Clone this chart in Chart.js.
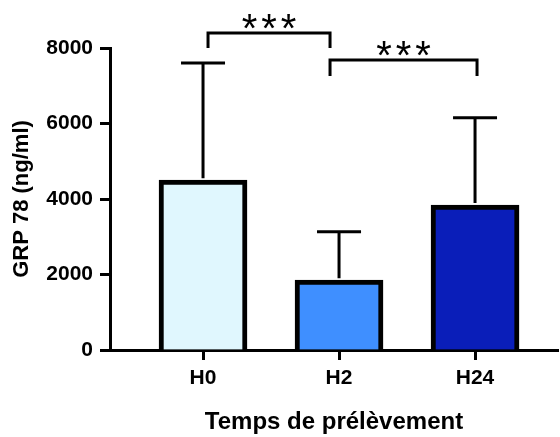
<!DOCTYPE html>
<html lang="fr">
<head>
    <meta charset="UTF-8">
    <title>GRP 78</title>
    <style>
        html, body { margin: 0; padding: 0; background: #fff; }
        #wrap { width: 560px; height: 437px; }
    </style>
    <script src="https://cdn.jsdelivr.net/npm/chart.js"></script>
</head>
<body>
    <div id="wrap"><canvas id="grpChart"></canvas></div>

    <script>
        // Data
        const categories = ['H0', 'H2', 'H24'];
        const means = [4500, 1850, 3840];
        const sdUp = [3100, 1280, 2310];
        const barColors = ['#E0F7FE', '#3F8FFF', '#0A1EB9'];
        const yTicks = [0, 2000, 4000, 6000, 8000];
        const sigPairs = [[0, 1], [1, 2]];
        const sigLabels = ['***', '***'];

        const FONT = '"Liberation Sans", Arial, sans-serif';

        // error bars (upper only, GraphPad style)
        const errorBars = {
            id: 'errorBars',
            afterDatasetsDraw(chart) {
                const { ctx, scales: { x, y } } = chart;
                ctx.save();
                ctx.strokeStyle = '#000';
                ctx.lineWidth = 3;
                means.forEach((m, i) => {
                    const px = x.getPixelForValue(i + 1);
                    const yb = y.getPixelForValue(m);
                    const yt = y.getPixelForValue(m + sdUp[i]);
                    ctx.beginPath();
                    ctx.moveTo(px, yb - 2);
                    ctx.lineTo(px, yt);
                    ctx.moveTo(px - 22, yt);
                    ctx.lineTo(px + 22, yt);
                    ctx.stroke();
                });
                ctx.restore();
            }
        };

        // significance brackets
        const brackets = {
            id: 'brackets',
            afterDraw(chart, args, opts) {
                const { ctx, scales: { x, y } } = chart;
                ctx.save();
                ctx.strokeStyle = '#000';
                ctx.fillStyle = '#000';
                ctx.lineWidth = 3;
                sigPairs.forEach(([a, b], i) => {
                    const x1 = x.getPixelForValue(a + 1) + opts.inset[i][0];
                    const x2 = x.getPixelForValue(b + 1) + opts.inset[i][1];
                    const yt = y.getPixelForValue(opts.top[i]);
                    const yl = y.getPixelForValue(opts.leg[i]);
                    ctx.beginPath();
                    ctx.moveTo(x1, yl);
                    ctx.lineTo(x1, yt);
                    ctx.lineTo(x2, yt);
                    ctx.lineTo(x2, yl);
                    ctx.stroke();
                    ctx.font = '40px ' + FONT;
                    ctx.letterSpacing = '4px';
                    ctx.textAlign = 'center';
                    ctx.textBaseline = 'middle';
                    ctx.fillText(sigLabels[i], (x1 + x2) / 2 + 2, yt - 2);
                });
                ctx.restore();
            }
        };

        const ctx = document.getElementById('grpChart').getContext('2d');
        new Chart(ctx, {
            type: 'bar',
            data: {
                datasets: [{
                    data: means.map((m, i) => ({ x: i + 1, y: m })),
                    backgroundColor: barColors,
                    borderColor: '#000',
                    borderWidth: 5,
                    borderSkipped: 'bottom',
                    barThickness: 88
                }]
            },
            options: {
                responsive: true,
                maintainAspectRatio: false,
                animation: false,
                layout: { padding: { top: 48, right: 2, left: 0, bottom: 0 } },
                plugins: {
                    legend: { display: false },
                    tooltip: { enabled: false },
                    brackets: {
                        top: [8400, 7680],
                        leg: [8000, 7260],
                        inset: [[5, -9], [-9, 2]]
                    }
                },
                scales: {
                    x: {
                        type: 'linear',
                        offset: false,
                        min: 0.316,
                        max: 3.61,
                        afterBuildTicks: s => { s.ticks = categories.map((c, i) => ({ value: i + 1 })); },
                        afterFit: s => { s.height = 87; },
                        grid: { offset: false, drawOnChartArea: false, tickLength: 10, tickWidth: 3, tickColor: '#000' },
                        border: { color: '#000', width: 3 },
                        ticks: {
                            color: '#000',
                            padding: 6,
                            font: { family: FONT, size: 21, weight: 'bold' },
                            callback: v => categories[v - 1]
                        },
                        title: {
                            display: true,
                            text: 'Temps de prélèvement',
                            color: '#000',
                            padding: { top: 0, bottom: 0 },
                            font: { family: FONT, size: 24, weight: 'bold' }
                        }
                    },
                    y: {
                        min: 0,
                        max: 8000,
                        afterBuildTicks: s => { s.ticks = yTicks.map(v => ({ value: v })); },
                        afterFit: s => { s.width = 110; },
                        grid: { drawOnChartArea: false, tickLength: 10, tickWidth: 3, tickColor: '#000' },
                        border: { color: '#000', width: 3 },
                        ticks: {
                            color: '#000',
                            padding: 7,
                            font: { family: FONT, size: 21, weight: 'bold' },
                            callback: v => String(v)
                        },
                        title: {
                            display: true,
                            text: 'GRP 78 (ng/ml)',
                            color: '#000',
                            padding: { top: 9, bottom: 0 },
                            font: { family: FONT, size: 22, weight: 'bold' }
                        }
                    }
                }
            },
            plugins: [errorBars, brackets]
        });
    </script>
</body>
</html>
